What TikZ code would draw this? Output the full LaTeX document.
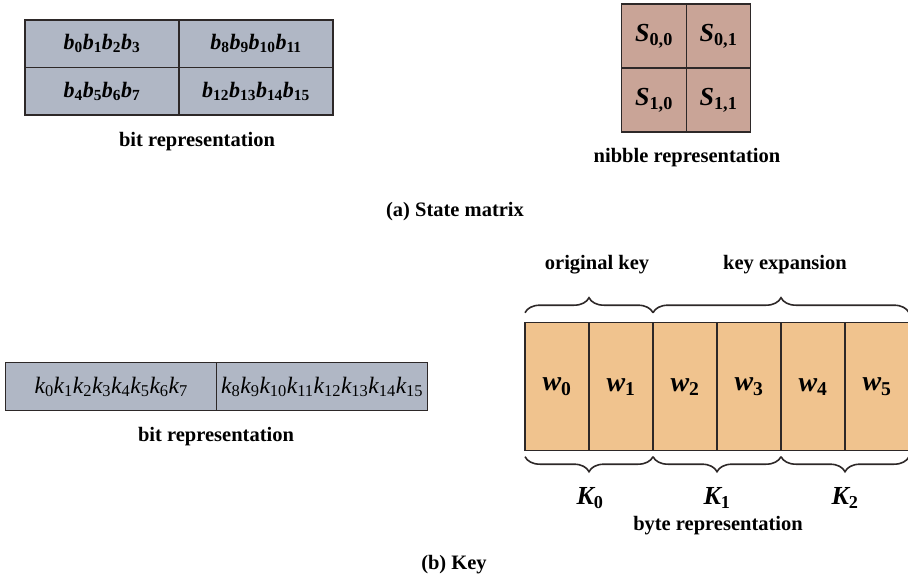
\documentclass[tikz,border=0pt]{standalone}
\usepackage{fix-cm}
\usepackage{amsmath}
\usepackage{fontspec}
\setmainfont{Liberation Serif}
\usetikzlibrary{positioning, decorations.pathreplacing, calc}
\definecolor{bitgray}{RGB}{176, 183, 197}
\definecolor{nibblerose}{RGB}{201, 164, 151}
\definecolor{wordtan}{RGB}{240, 195, 142}
\definecolor{cellline}{RGB}{45, 40, 40}
\newcommand{\subsym}[2]{$\text{\itshape #1}_{\text{#2}}$}
\tikzset{
    cellbox/.style={draw=cellline, line width=1.2pt, rectangle, inner sep=0pt, outer sep=0pt, align=center},
    bitcell/.style={cellbox, fill=bitgray, minimum width=154pt, minimum height=47.5pt, font=\fontsize{22}{24}\selectfont\bfseries},
    nibcell/.style={cellbox, fill=nibblerose, minimum width=64.5pt, minimum height=64pt, font=\fontsize{26}{28}\selectfont\bfseries},
    keycell/.style={cellbox, fill=bitgray, minimum width=211pt, minimum height=48pt, font=\fontsize{23.5}{25}\selectfont},
    wordcell/.style={cellbox, fill=wordtan, minimum width=64pt, minimum height=128pt, font=\fontsize{28}{30}\selectfont\bfseries},
    caption/.style={font=\fontsize{20.5}{22}\selectfont\bfseries, inner sep=0pt},
    roundlabel/.style={font=\fontsize{26}{28}\selectfont\bfseries, inner sep=0pt},
    bracemark/.style={decorate, decoration={brace, amplitude=15pt, raise=#1}, line width=1.6pt, draw=cellline},
}

\begin{document}
\begin{tikzpicture}[x=1pt, y=1pt]
    \useasboundingbox (0,0) rectangle (908,-580);

    % (a) state matrix, bits
    \node[bitcell] (b00) at (102,-43.75) {\subsym{b}{0}\subsym{b}{1}\subsym{b}{2}\subsym{b}{3}};
    \node[bitcell, right=0pt of b00] (b01) {\subsym{b}{8}\subsym{b}{9}\subsym{b}{10}\subsym{b}{11}};
    \node[bitcell, below=0pt of b00] (b10) {\subsym{b}{4}\subsym{b}{5}\subsym{b}{6}\subsym{b}{7}};
    \node[bitcell, right=0pt of b10] (b11) {\subsym{b}{12}\subsym{b}{13}\subsym{b}{14}\subsym{b}{15}};
    \node[caption] (bitcap) at (197,-142) {bit representation};

    % (a) state matrix, nibbles
    \node[nibcell] (s00) at (654,-36) {\subsym{S}{0,0}};
    \node[nibcell, right=0pt of s00] (s01) {\subsym{S}{0,1}};
    \node[nibcell, below=0pt of s00] (s10) {\subsym{S}{1,0}};
    \node[nibcell, right=0pt of s10] (s11) {\subsym{S}{1,1}};
    \node[caption] (nibcap) at (687,-158) {nibble representation};

    \node[caption] (capa) at (455,-212) {(a) State matrix};

    % (b) key, bits
    \node[keycell] (k0) at (111.2,-386.7) {\subsym{k}{0}\subsym{k}{1}\subsym{k}{2}\subsym{k}{3}\subsym{k}{4}\subsym{k}{5}\subsym{k}{6}\subsym{k}{7}};
    \node[keycell, right=0pt of k0] (k1) {\subsym{k}{8}\subsym{k}{9}\subsym{k}{10}\subsym{k}{11}\subsym{k}{12}\subsym{k}{13}\subsym{k}{14}\subsym{k}{15}};
    \node[caption] (keycap) at (216,-437) {bit representation};

    % (b) key, words
    \node[wordcell] (w0) at (557,-386.7) {\subsym{w}{0}};
    \node[wordcell, right=0pt of w0] (w1) {\subsym{w}{1}};
    \node[wordcell, right=0pt of w1] (w2) {\subsym{w}{2}};
    \node[wordcell, right=0pt of w2] (w3) {\subsym{w}{3}};
    \node[wordcell, right=0pt of w3] (w4) {\subsym{w}{4}};
    \node[wordcell, right=0pt of w4] (w5) {\subsym{w}{5}};

    \draw[bracemark=10pt] (w0.north west) -- (w1.north east);
    \draw[bracemark=10pt] (w2.north west) -- (w5.north east);
    \node[caption] (origcap) at (597,-265) {original key};
    \node[caption] (expcap) at (785,-265) {key expansion};

    \draw[bracemark=6pt] (w1.south east) -- (w0.south west);
    \draw[bracemark=6pt] (w3.south east) -- (w2.south west);
    \draw[bracemark=6pt] (w5.south east) -- (w4.south west);
    \node[roundlabel] (r0) at (590,-498) {\subsym{K}{0}};
    \node[roundlabel] (r1) at (717,-498) {\subsym{K}{1}};
    \node[roundlabel] (r2) at (845,-498) {\subsym{K}{2}};
    \node[caption] (bytecap) at (718,-526) {byte representation};

    \node[caption] (capb) at (454,-565) {(b) Key};
\end{tikzpicture}
\end{document}
